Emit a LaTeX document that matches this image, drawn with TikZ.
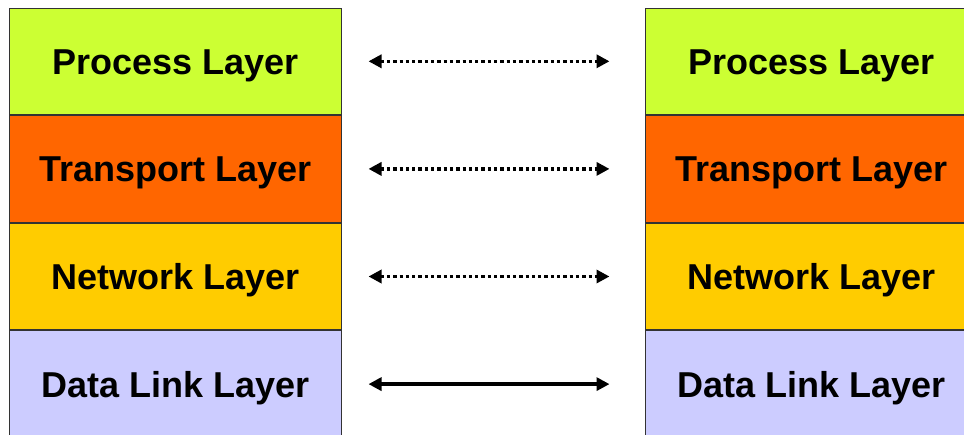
\documentclass[tikz,border=0pt]{standalone}
\usepackage{fontspec}
\setmainfont{Liberation Sans}
\usepackage{tikz}
\usetikzlibrary{arrows.meta}
\usetikzlibrary{matrix,positioning}
\usepackage{xcolor}
\definecolor{proc}{HTML}{CCFF33}
\definecolor{trans}{HTML}{FF6600}
\definecolor{netw}{HTML}{FFCC00}
\definecolor{link}{HTML}{CCCCFF}
\definecolor{edge}{HTML}{333333}
\tikzset{
  layer/.style={draw=edge,line width=1pt,minimum width=332pt,minimum height=106.6pt,
    outer sep=0pt,inner sep=0pt,text height=26pt,text depth=0pt,
    font=\fontsize{36}{43}\selectfont\bfseries},
  stack/.style={matrix of nodes,nodes={layer},row sep=0pt,inner sep=0pt,outer sep=0pt,
    row 1/.style={nodes={fill=proc}},row 2/.style={nodes={fill=trans}},
    row 3/.style={nodes={fill=netw}},row 4/.style={nodes={fill=link}}},
  peer/.style={line width=3.5pt,shorten <=27pt,shorten >=36pt,
    {Triangle[length=13pt,width=13pt]}-{Triangle[length=13pt,width=13pt]}},
  virt/.style={peer,line width=3.3pt,dash pattern=on 3.3pt off 3pt}
}
\begin{document}
\begin{tikzpicture}[x=1pt,y=-1pt]
    \useasboundingbox[fill=white] (0,0) rectangle (964,434);
    \matrix (L) [stack,anchor=north west] at (9,7.5) {
      Process Layer \\
      Transport Layer \\
      Network Layer \\
      Data Link Layer \\
    };
    \matrix (R) [stack,right=303pt of L] {
      Process Layer \\
      Transport Layer \\
      Network Layer \\
      Data Link Layer \\
    };
    \draw[virt] (L-1-1.east) -- (R-1-1.west);
    \draw[virt] (L-2-1.east) -- (R-2-1.west);
    \draw[virt] (L-3-1.east) -- (R-3-1.west);
    \draw[peer] (L-4-1.east) -- (R-4-1.west);
\end{tikzpicture}
\end{document}
